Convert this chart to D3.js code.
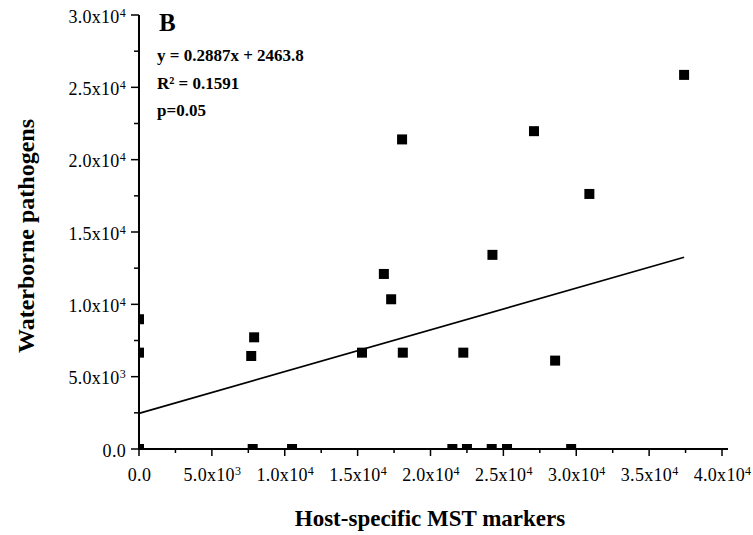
<!DOCTYPE html>
<meta charset="utf-8">
<head>
<style>
body { margin: 0; background: #fff; }
svg text { font-family: "Liberation Serif", "Times New Roman", serif; fill: #000; }
</style>
</head>
<script src="https://d3js.org/d3.v7.min.js"></script>
<div id="chart"></div>
<script>

// data
var xMarkers   = [0, 0, 0, 7700, 7900, 7800, 10500, 15300, 16800, 17300, 18050, 18100, 21500, 22250, 22500, 24250, 24200, 25250, 27100, 28550, 29650, 30900, 37400];
var yPathogens = [8970, 6660, 0, 6430, 7720, 0, 0, 6660, 12100, 10350, 21400, 6660, 0, 6660, 0, 13420, 0, 0, 21970, 6110, 0, 17630, 25860];

var xTicks = [0, 5000, 10000, 15000, 20000, 25000, 30000, 35000, 40000];
var xMinor = [2500, 7500, 12500, 17500, 22500, 27500, 32500, 37500];
var yTicks = [0, 5000, 10000, 15000, 20000, 25000, 30000];
var yMinor = [2500, 7500, 12500, 17500, 22500, 27500];

// fitted line given on the chart
var slope = 0.2887, intercept = 2463.8;
var notes = ["y = 0.2887x + 2463.8", "R\u00b2 = 0.1591", "p=0.05"];

var W = 753, H = 535;
var margin = {top: 15, left: 139, right: 25, bottom: 86};
var width = W - margin.left - margin.right,
    height = H - margin.top - margin.bottom;

var svg = d3.select("#chart").append("svg")
    .attr("width", W)
    .attr("height", H);

// scales in page coordinates
var x = d3.scaleLinear().domain([0, 40000]).range([margin.left, margin.left + width - 6]);
var y = d3.scaleLinear().domain([0, 30000]).range([margin.top + height, margin.top]);
var x0 = x(0), y0 = y(0);

// label like 2.5x10^4
function sciLabel(sel) {
  sel.each(function(v) {
    var t = d3.select(this).text("");
    if (v === 0) { t.text("0.0"); return; }
    var e = Math.floor(Math.log10(v));
    var m = v / Math.pow(10, e);
    t.append("tspan").text(m.toFixed(1) + "x10");
    t.append("tspan").attr("dy", "-0.5em").style("font-size", "12px").text(e);
  });
}

// points (squares cut at the axes, like in the figure)
var half = 5;
var pts = xMarkers.map(function(d, i) { return {x: d, y: yPathogens[i]}; });
svg.append("g")
  .selectAll("rect")
  .data(pts)
  .enter().append("rect")
    .attr("x", function(d) { return Math.max(x(d.x) - half, x0); })
    .attr("y", function(d) { return y(d.y) - half; })
    .attr("width", function(d) { return x(d.x) + half - Math.max(x(d.x) - half, x0); })
    .attr("height", function(d) { return Math.min(y(d.y) + half, y0) - (y(d.y) - half); })
    .attr("fill", "#000");

// regression line
var xr = d3.extent(xMarkers);
svg.append("line")
    .attr("x1", x(xr[0])).attr("y1", y(slope * xr[0] + intercept))
    .attr("x2", x(xr[1])).attr("y2", y(slope * xr[1] + intercept))
    .attr("stroke", "#000")
    .attr("stroke-width", 1.6);

// tick labels from d3 axes (tick marks drawn separately below)
var xAxis = svg.append("g")
    .attr("transform", "translate(0," + y0 + ")")
    .call(d3.axisBottom(x).tickValues(xTicks).tickSize(0));
xAxis.select(".domain").remove();
xAxis.selectAll(".tick line").remove();
xAxis.selectAll(".tick text")
    .attr("y", 19)
    .style("font-size", "18px")
    .style("letter-spacing", "0.3px")
    .call(sciLabel);

var yAxis = svg.append("g")
    .attr("transform", "translate(" + x0 + ",0)")
    .call(d3.axisLeft(y).tickValues(yTicks).tickSize(0));
yAxis.select(".domain").remove();
yAxis.selectAll(".tick line").remove();
yAxis.selectAll(".tick text")
    .attr("x", -13)
    .attr("dy", "0.4em")
    .style("font-size", "18px")
    .style("letter-spacing", "0.3px")
    .call(sciLabel);

// panel letter + stats
svg.append("text")
    .attr("x", x0 + 20).attr("y", margin.top + 16)
    .style("font-size", "25px").style("font-weight", "bold")
    .text("B");
svg.selectAll(".note")
  .data(notes)
  .enter().append("text")
    .attr("class", "note")
    .attr("x", x0 + 18)
    .attr("y", function(d, i) { return margin.top + 46 + i * 27.5; })
    .style("font-size", "17px").style("font-weight", "bold")
    .text(function(d) { return d; });

// axis titles
svg.append("text")
    .attr("x", 430)
    .attr("y", 526)
    .attr("text-anchor", "middle")
    .style("font-size", "23px").style("font-weight", "bold")
    .text("Host-specific MST markers");

svg.append("text")
    .attr("transform", "translate(34,236)rotate(-90)")
    .attr("text-anchor", "middle")
    .style("font-size", "24px").style("font-weight", "bold")
    .text("Waterborne pathogens");

// axis lines and tick marks, drawn last
var ax = svg.append("g").attr("stroke", "#000");
ax.append("line")
    .attr("x1", x0).attr("x2", margin.left + width)
    .attr("y1", y0).attr("y2", y0)
    .attr("stroke-width", 2);
ax.append("line")
    .attr("x1", x0).attr("x2", x0)
    .attr("y1", y(30000)).attr("y2", y0)
    .attr("stroke-width", 2);
ax.selectAll(".xmaj").data(xTicks).enter().append("line")
    .attr("x1", function(d) { return x(d); }).attr("x2", function(d) { return x(d); })
    .attr("y1", y0).attr("y2", y0 + 7)
    .attr("stroke-width", 1.5);
ax.selectAll(".xmin").data(xMinor).enter().append("line")
    .attr("x1", function(d) { return x(d); }).attr("x2", function(d) { return x(d); })
    .attr("y1", y0).attr("y2", y0 + 4)
    .attr("stroke-width", 1.5);
ax.selectAll(".ymaj").data(yTicks).enter().append("line")
    .attr("x1", x0 - 8).attr("x2", x0)
    .attr("y1", function(d) { return y(d); }).attr("y2", function(d) { return y(d); })
    .attr("stroke-width", 1.5);
ax.selectAll(".ymin").data(yMinor).enter().append("line")
    .attr("x1", x0 - 5).attr("x2", x0)
    .attr("y1", function(d) { return y(d); }).attr("y2", function(d) { return y(d); })
    .attr("stroke-width", 1.5);

</script>
